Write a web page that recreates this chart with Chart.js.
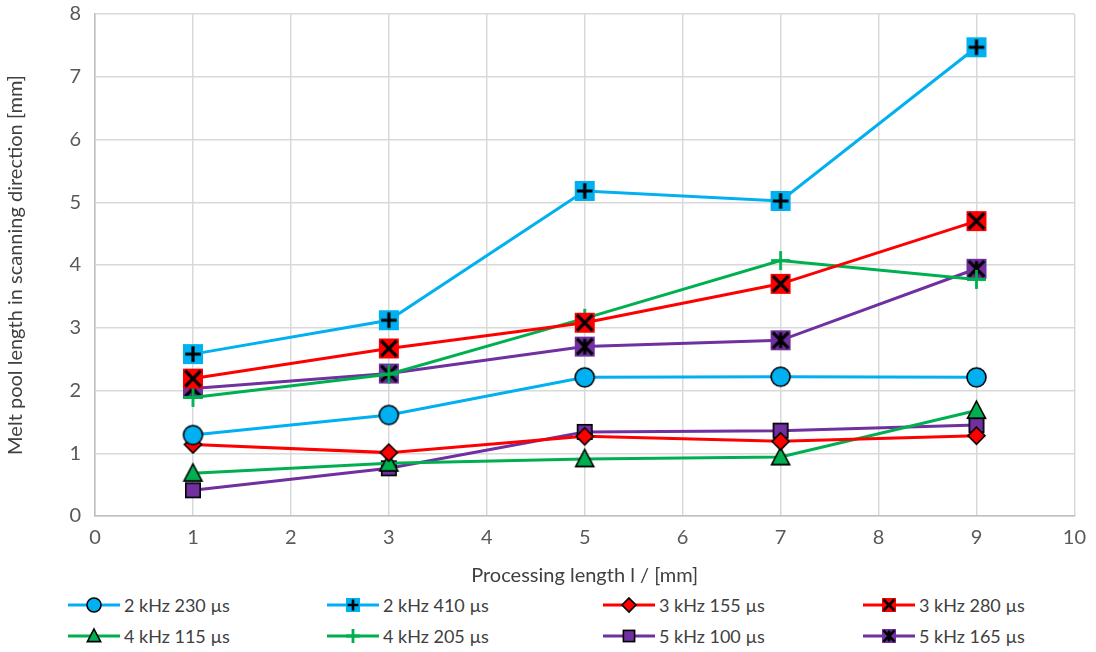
<!DOCTYPE html>
<html>
<head>
<meta charset="utf-8">
<script src="https://cdn.jsdelivr.net/npm/chart.js@4.4.1/dist/chart.umd.min.js"></script>
<style>
    body { margin: 0; background: #fff; overflow: hidden; }
    #wrap { position: relative; width: 1096px; height: 652px; font-family: Lato, 'Open Sans', sans-serif; overflow: hidden; }
    #chartBox { position: absolute; left: 0; top: -12px; width: 1096px; height: 604px; }
    .item { position: absolute; display: flex; align-items: center; font-size: 18px; color: #404040; white-space: nowrap; }
    .item canvas { margin-right: 4px; }
</style>
</head>
<body>
<div id="wrap">
    <div id="chartBox"><canvas id="meltChart"></canvas></div>
    <div id="legend"></div>
</div>
<script>
// Melt pool length vs processing length

const processingLength = [1, 3, 5, 7, 9];
const xTicks = [0, 1, 2, 3, 4, 5, 6, 7, 8, 9, 10];
const yTicks = [0, 1, 2, 3, 4, 5, 6, 7, 8];

const seriesNames = ['2 kHz 230 µs', '2 kHz 410 µs', '3 kHz 155 µs', '3 kHz 280 µs',
                     '4 kHz 115 µs', '4 kHz 205 µs', '5 kHz 100 µs', '5 kHz 165 µs'];

const khz2_230 = [1.29, 1.61, 2.21, 2.22, 2.21];
const khz2_410 = [2.58, 3.12, 5.18, 5.02, 7.47];
const khz3_155 = [1.14, 1.01, 1.27, 1.19, 1.28];
const khz3_280 = [2.19, 2.67, 3.08, 3.70, 4.70];
const khz4_115 = [0.68, 0.84, 0.91, 0.94, 1.68];
const khz4_205 = [1.89, 2.26, 3.15, 4.07, 3.77];
const khz5_100 = [0.41, 0.76, 1.34, 1.36, 1.45];
const khz5_165 = [2.03, 2.27, 2.70, 2.80, 3.94];

const seriesValues = [khz2_230, khz2_410, khz3_155, khz3_280, khz4_115, khz4_205, khz5_100, khz5_165];

const cyan = '#00B0F0';
const red = '#FF0000';
const green = '#00B050';
const purple = '#7030A0';

const seriesColors = [cyan, cyan, red, red, green, green, purple, purple];
const seriesMarkers = ['circle', 'boxPlus', 'diamond', 'boxX', 'triangle', 'plus', 'square', 'boxStar'];

// draw one marker centred at cx, cy
function drawMarker(ctx, kind, cx, cy, s, color) {
    const h = s / 2;
    ctx.save();
    ctx.lineJoin = 'miter';
    ctx.fillStyle = color;
    ctx.strokeStyle = '#000';
    ctx.lineWidth = 1.6;
    if (kind === 'circle') {
        ctx.beginPath();
        ctx.arc(cx, cy, h, 0, Math.PI * 2);
        ctx.fill(); ctx.stroke();
    } else if (kind === 'diamond') {
        ctx.beginPath();
        ctx.moveTo(cx, cy - h); ctx.lineTo(cx + h, cy); ctx.lineTo(cx, cy + h); ctx.lineTo(cx - h, cy);
        ctx.closePath(); ctx.fill(); ctx.stroke();
    } else if (kind === 'triangle') {
        ctx.beginPath();
        ctx.moveTo(cx, cy - h); ctx.lineTo(cx + h * 0.95, cy + h * 0.8); ctx.lineTo(cx - h * 0.95, cy + h * 0.8);
        ctx.closePath(); ctx.fill(); ctx.stroke();
    } else if (kind === 'square') {
        ctx.fillRect(cx - h * 0.8, cy - h * 0.8, h * 1.6, h * 1.6);
        ctx.strokeRect(cx - h * 0.8, cy - h * 0.8, h * 1.6, h * 1.6);
    } else if (kind === 'plus') {
        ctx.strokeStyle = color;
        ctx.lineWidth = 2.8;
        ctx.beginPath();
        ctx.moveTo(cx - h, cy); ctx.lineTo(cx + h, cy);
        ctx.moveTo(cx, cy - h); ctx.lineTo(cx, cy + h);
        ctx.stroke();
    } else {
        // filled box with black glyph inside
        ctx.fillRect(cx - h, cy - h, s, s);
        ctx.lineWidth = s > 16 ? 3.2 : 2.6;
        const g = h * 0.78;
        ctx.beginPath();
        if (kind === 'boxPlus' || kind === 'boxStar') {
            if (kind === 'boxPlus') {
                ctx.moveTo(cx - g, cy); ctx.lineTo(cx + g, cy);
            }
            ctx.moveTo(cx, cy - g); ctx.lineTo(cx, cy + g);
        }
        if (kind === 'boxX' || kind === 'boxStar') {
            ctx.moveTo(cx - g, cy - g); ctx.lineTo(cx + g, cy + g);
            ctx.moveTo(cx + g, cy - g); ctx.lineTo(cx - g, cy + g);
        }
        ctx.stroke();
    }
    ctx.restore();
}

function markerCanvas(kind, color, s) {
    const c = document.createElement('canvas');
    c.width = s + 6; c.height = s + 6;
    drawMarker(c.getContext('2d'), kind, c.width / 2, c.height / 2, s, color);
    return c;
}

const markerSizes = { circle: 19, boxPlus: 20, diamond: 17, boxX: 20, triangle: 19, plus: 19, square: 18, boxStar: 20 };

const datasets = seriesValues.map(function(vals, i) {
    return {
        label: seriesNames[i],
        data: processingLength.map((x, j) => ({ x: x, y: vals[j] })),
        borderColor: seriesColors[i],
        backgroundColor: seriesColors[i],
        borderWidth: 3,
        pointStyle: markerCanvas(seriesMarkers[i], seriesColors[i], markerSizes[seriesMarkers[i]]),
        tension: 0
    };
});

new Chart(document.getElementById('meltChart'), {
    type: 'line',
    data: { datasets: datasets },
    options: {
        responsive: true,
        maintainAspectRatio: false,
        animation: false,
        layout: { padding: { top: 0, right: 19, left: 0, bottom: 0 } },
        plugins: { legend: { display: false }, tooltip: { enabled: false } },
        scales: {
            x: {
                type: 'linear',
                min: 0, max: 10,
                afterBuildTicks: s => { s.ticks = xTicks.map(v => ({ value: v })); },
                afterFit: s => { s.height = 76; },
                grid: { color: '#d9d9d9', lineWidth: 1.5, drawTicks: false },
                border: { color: '#bfbfbf', width: 1.5 },
                ticks: { color: '#595959', font: { family: 'Lato', size: 20 }, padding: 10 },
                title: { display: true, text: 'Processing length l / [mm]', color: '#404040',
                         font: { family: 'Lato', size: 20 }, padding: { top: 2 } }
            },
            y: {
                min: 0, max: 8,
                afterBuildTicks: s => { s.ticks = yTicks.map(v => ({ value: v })); },
                afterFit: s => { s.width = 95; },
                grid: { color: '#d9d9d9', lineWidth: 1.5, drawTicks: false },
                border: { color: '#bfbfbf', width: 1.5 },
                ticks: { color: '#595959', font: { family: 'Lato', size: 20 }, padding: 14 },
                title: { display: true, text: 'Melt pool length in scanning direction [mm]', color: '#404040',
                         font: { family: 'Lato', size: 20 }, padding: { bottom: 2 } }
            }
        }
    }
});

// custom legend: 4 columns x 2 rows, line + marker + text
const legendCols = [68, 327, 603, 863];
const legendRows = [605, 636];
const legend = document.getElementById('legend');
seriesNames.forEach(function(name, i) {
    const item = document.createElement('div');
    item.className = 'item';
    const col = i % 4, row = Math.floor(i / 4);
    const c = document.createElement('canvas');
    c.width = 52; c.height = 22;
    const ctx = c.getContext('2d');
    ctx.strokeStyle = seriesColors[i];
    ctx.lineWidth = 3;
    ctx.beginPath(); ctx.moveTo(0, 11); ctx.lineTo(52, 11); ctx.stroke();
    drawMarker(ctx, seriesMarkers[i], 26, 11, 14, seriesColors[i]);
    item.appendChild(c);
    item.appendChild(document.createTextNode(name));
    item.style.left = legendCols[col] + 'px';
    item.style.top = (legendRows[row] - 11) + 'px';
    legend.appendChild(item);
});
</script>
</body>
</html>
